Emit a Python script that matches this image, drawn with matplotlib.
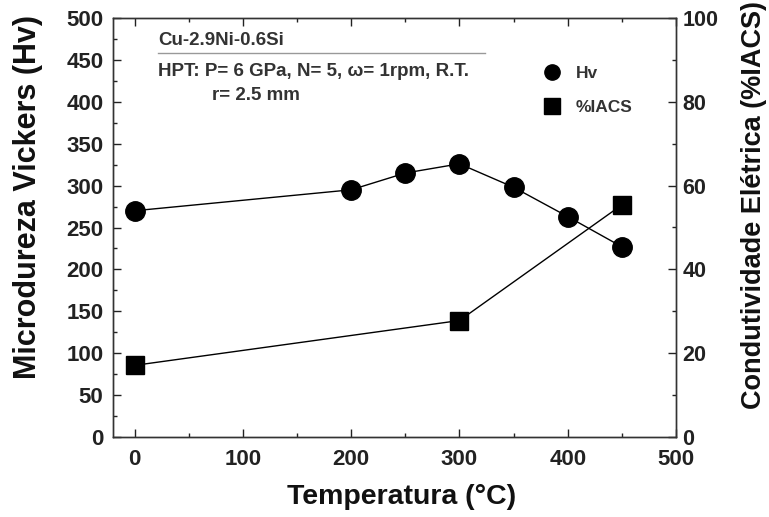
import matplotlib
matplotlib.use("Agg")
import matplotlib.pyplot as plt
from matplotlib.ticker import MultipleLocator
from matplotlib.lines import Line2D

plt.rcParams['font.family'] = ['Liberation Sans', 'DejaVu Sans']

temp_hv = [0, 200, 250, 300, 350, 400, 450]
hv = [270, 295, 315, 326, 298, 263, 227]
temp_iacs = [0, 300, 450]
iacs = [17.1, 27.8, 55.4]

W, H = 769, 517
fig = plt.figure(figsize=(W / 100, H / 100), dpi=100)
L, R, T, B = 113, 676, 18, 437
ax = fig.add_axes([L / W, 1 - B / H, (R - L) / W, (B - T) / H])
ax2 = ax.twinx()

ax.plot(temp_hv, hv, '-', color='black', lw=1.0, marker='o', ms=14, mfc='black', mec='black')
ax2.plot(temp_iacs, iacs, '-', color='black', lw=1.0, marker='s', ms=12.5, mfc='black', mec='black')

ax.set_xlim(-20, 500)
ax.set_ylim(0, 500)
ax2.set_ylim(0, 100)

ax.xaxis.set_major_locator(MultipleLocator(100))
ax.xaxis.set_minor_locator(MultipleLocator(50))
ax.yaxis.set_major_locator(MultipleLocator(50))
ax.yaxis.set_minor_locator(MultipleLocator(25))
ax2.yaxis.set_major_locator(MultipleLocator(20))
ax2.yaxis.set_minor_locator(MultipleLocator(10))

for a in (ax, ax2):
    a.tick_params(which='both', direction='in', width=1.0, colors='#222222', labelcolor='#222222')
    a.tick_params(which='major', length=6)
    a.tick_params(which='minor', length=3)
    for s in a.spines.values():
        s.set_linewidth(1.0)
        s.set_color('#333333')
ax.tick_params(top=True, which='both')
ax.tick_params(axis='y', pad=7)
ax.tick_params(axis='x', pad=8.5)
ax2.tick_params(axis='y', pad=4.5)

for lab in ax.get_xticklabels() + ax.get_yticklabels():
    lab.set_fontweight('bold')
    lab.set_fontsize(16)
for lab in ax2.get_yticklabels():
    lab.set_fontweight('bold')
    lab.set_fontsize(15.5)

fig.text(402 / W, 1 - 497 / H, 'Temperatura (°C)', fontsize=20.5, fontweight='bold',
         ha='center', va='center', color='#111111')
fig.text(28 / W, 1 - 197 / H, 'Microdureza Vickers (Hv)', fontsize=22, fontweight='bold',
         ha='center', va='center', rotation=90, color='#111111')
fig.text(754 / W, 1 - 205 / H, 'Condutividade Elétrica (%IACS)', fontsize=19.5, fontweight='bold',
         ha='center', va='center', rotation=90, color='#111111')

fig.text(158 / W, 1 - 45 / H, 'Cu-2.9Ni-0.6Si', fontsize=13.5, fontweight='bold', va='baseline', ha='left', color='#333333')
fig.add_artist(Line2D([158 / W, 485 / W], [1 - 53 / H, 1 - 53 / H], color='#999999', lw=1.0))
fig.text(158 / W, 1 - 76 / H, 'HPT: P= 6 GPa, N= 5, ω= 1rpm, R.T.', fontsize=13.5, fontweight='bold', va='baseline', ha='left', color='#333333')
fig.text(212 / W, 1 - 100 / H, 'r= 2.5 mm', fontsize=13.5, fontweight='bold', va='baseline', ha='left', color='#333333')

leg = fig.legend(handles=[Line2D([], [], ls='none', marker='o', ms=11, color='black', label='Hv'),
                          Line2D([], [], ls='none', marker='s', ms=11, color='black', label='%IACS')],
                 loc='upper left', bbox_to_anchor=(543 / W, 1 - 66 / H), frameon=False,
                 handlelength=1.0, handletextpad=0.9, labelspacing=1.1, borderpad=0, borderaxespad=0,
                 prop={'weight': 'bold', 'size': 12.5})
for t in leg.get_texts():
    t.set_color('#333333')

fig.savefig('out.png', dpi=100)
